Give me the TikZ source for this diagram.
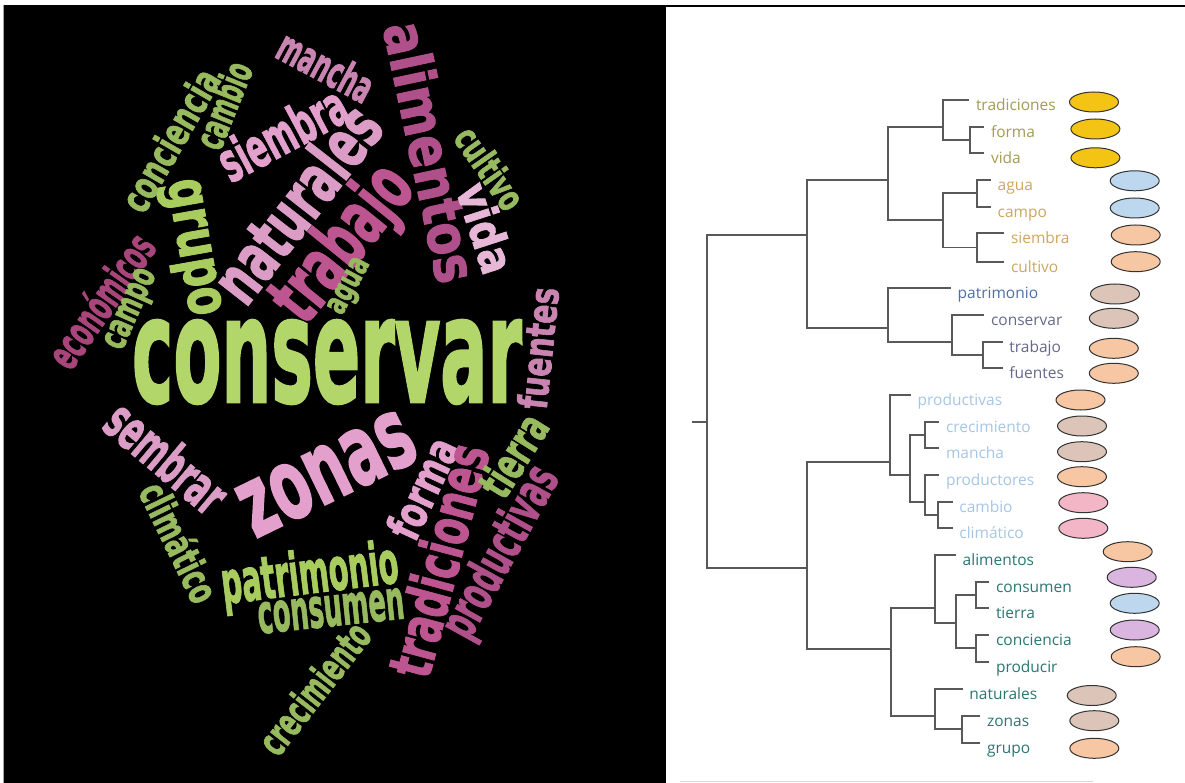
\documentclass[tikz,border=0pt]{standalone}
\usepackage{fontspec}
\usepackage{graphicx}
\usetikzlibrary{shapes.geometric}
\setmainfont{Open Sans}
\newfontfamily\leaffont{Open Sans}
\newfontfamily\cloudfont[FakeBold=2]{DejaVu Sans Bold}

% word cloud palette
\definecolor{limeA}{HTML}{B3D66A}
\definecolor{limeB}{HTML}{A8CC5E}
\definecolor{leafgreen}{HTML}{98BA5E}
\definecolor{pinkA}{HTML}{E3A0CC}
\definecolor{pinkB}{HTML}{DB9CC6}
\definecolor{pinkC}{HTML}{E6B7D6}
\definecolor{mauve}{HTML}{CA84B2}
\definecolor{magA}{HTML}{BD5590}
\definecolor{magB}{HTML}{B0508A}
\definecolor{magC}{HTML}{A8457A}
% dendrogram label colours
\definecolor{olive}{HTML}{A39C52}
\definecolor{sand}{HTML}{CFA660}
\definecolor{navy}{HTML}{4E70A8}
\definecolor{slate}{HTML}{66698A}
\definecolor{skyblue}{HTML}{A7C6E5}
\definecolor{teal}{HTML}{2C7673}
% marker fills
\definecolor{gold}{HTML}{F4C414}
\definecolor{paleblue}{HTML}{BDD7EE}
\definecolor{peach}{HTML}{F7C6A3}
\definecolor{tan}{HTML}{DCC5B8}
\definecolor{rose}{HTML}{F2B6C6}
\definecolor{lilac}{HTML}{D9B5E0}

\tikzset{
  cloudw/.style={inner sep=0pt, font=\cloudfont},
  branch/.style={draw=black!65, line width=1.8pt, line cap=rect},
  leaflabel/.style={inner sep=0pt, anchor=base west, font=\leaffont\fontsize{15.5}{18}\selectfont},
  blob/.style={ellipse, draw=black!80, line width=1pt, minimum width=49pt, minimum height=20pt, inner sep=0pt},
}

% name, colour, angle, centre, font size, length, word
\newcommand\cloudword[7]{%
  \node[cloudw, text=#2, rotate=#3] (#1) at (#4)
    {\fontsize{#5}{#5}\selectfont\resizebox{#6pt}{\height}{#7}};}

% name, branch tip, text, text colour, marker centre, marker fill
\newcommand\leafitem[6]{%
  \coordinate (t-#1) at (#2);
  \node[leaflabel, text=#4] (l-#1) at ([shift={(7.5,10.5)}]t-#1) {#3};
  \node[blob, fill=#6] (e-#1) at (#5) {};}

\begin{document}
\begin{tikzpicture}[x=1pt, y=-1pt]
\useasboundingbox (0,0) rectangle (1185,783);
\fill[white] (0,0) rectangle (1185,783);

% black panel and top rule
\fill[black] (4,5) rectangle (666,783);
\fill[black] (4,5) rectangle (1185,7.5);
\draw[black!35, line width=0.8pt] (3.4,5) -- (3.4,783);
\draw[black!15, line width=0.8pt] (680,781.5) -- (1093,781.5);

% ---------------- word cloud ----------------
\cloudword{w-conservar}{limeA}{0}{327,362}{146}{390}{conservar}
\cloudword{w-zonas}{pinkA}{26}{327,474}{98}{186}{zonas}
\cloudword{w-trabajo}{magA}{51}{345,245}{76}{178}{trabajo}
\cloudword{w-naturales}{pinkB}{52}{296,203}{68}{228}{naturales}
\cloudword{w-siembra}{pinkA}{28}{282,133}{55}{138}{siembra}
\cloudword{w-mancha}{mauve}{-28}{326,66}{44}{102}{mancha}
\cloudword{w-alimentos}{magB}{-78}{431,152}{57}{265}{alimentos}
\cloudword{w-vida}{pinkC}{-72}{486,228}{46}{92}{vida}
\cloudword{w-cultivo}{leafgreen}{-55}{490,168}{37}{92}{cultivo}
\cloudword{w-grupo}{limeB}{-80}{189,248}{58}{138}{grupo}
\cloudword{w-conciencia}{leafgreen}{60}{170,140}{40}{157}{conciencia}
\cloudword{w-cambio}{leafgreen}{68}{223,105}{40}{90}{cambio}
\cloudword{w-economicos}{magC}{55}{100,300}{44}{152}{económicos}
\cloudword{w-campo}{leafgreen}{66}{133,310}{38}{85}{campo}
\cloudword{w-agua}{leafgreen}{62}{351,287}{33}{60}{agua}
\cloudword{w-sembrar}{pinkB}{-40}{167,457}{55}{140}{sembrar}
\cloudword{w-climatico}{leafgreen}{-64}{180,542}{40}{128}{climático}
\cloudword{w-patrimonio}{limeB}{7}{310,577}{59}{178}{patrimonio}
\cloudword{w-consumen}{leafgreen}{6}{331,611}{55}{147}{consumen}
\cloudword{w-crecimiento}{leafgreen}{52}{314,688}{40}{155}{crecimiento}
\cloudword{w-forma}{pinkA}{65}{422,488}{46}{106}{forma}
\cloudword{w-tradiciones}{magA}{75}{438,560}{59}{238}{tradiciones}
\cloudword{w-tierra}{leafgreen}{58}{513,455}{46}{88}{tierra}
\cloudword{w-productivas}{magB}{61}{502,553}{51}{188}{productivas}
\cloudword{w-fuentes}{mauve}{84}{538,348}{40}{122}{fuentes}

% ---------------- dendrogram ----------------
% internal nodes: (merge height, join position)
\coordinate (stub) at (693.3,421.7);
\coordinate (root) at (707.3,421.7);
\coordinate (nAB) at (807,235);
\coordinate (nCD) at (807,568.3);
\coordinate (nA) at (888.3,180);
\coordinate (nB) at (888.3,328.3);
\coordinate (nTFV) at (943.3,126.7);
\coordinate (nFV) at (970,140);
\coordinate (nASC) at (943.3,220);
\coordinate (nAC) at (976.7,193.3);
\coordinate (nSC) at (976.7,247.5);
\coordinate (nCTF) at (951.7,341.7);
\coordinate (nTWF) at (983.3,355);
\coordinate (nC) at (890,461.7);
\coordinate (nCMP) at (910,475);
\coordinate (nCM) at (925,435);
\coordinate (nPCC) at (925,501.7);
\coordinate (nCC) at (938.3,515);
\coordinate (nD) at (890.7,649.3);
\coordinate (nD1) at (935,608.3);
\coordinate (nCTCP) at (956,622.7);
\coordinate (nCT) at (976,595);
\coordinate (nCP) at (976,648.3);
\coordinate (nD2) at (935,716);
\coordinate (nZG) at (961.7,729.3);

% leaves
\leafitem{tradiciones}{968.3,100}{tradiciones}{olive}{1094,102}{gold}
\leafitem{forma}{983.3,126.7}{forma}{olive}{1095.4,129}{gold}
\leafitem{vida}{983.3,153.3}{vida}{olive}{1095.4,157.8}{gold}
\leafitem{agua}{990,180}{agua}{sand}{1134.7,180.8}{paleblue}
\leafitem{campo}{990,206.7}{campo}{sand}{1134.7,208}{paleblue}
\leafitem{siembra}{1003.3,233.3}{siembra}{sand}{1135.7,235}{peach}
\leafitem{cultivo}{1003.3,261.7}{cultivo}{sand}{1135.7,261.7}{peach}
\leafitem{patrimonio}{950,288.3}{patrimonio}{navy}{1115,294}{tan}
\leafitem{conservar}{983.3,315}{conservar}{slate}{1113.8,318.3}{tan}
\leafitem{trabajo}{1001.7,341.7}{trabajo}{slate}{1113.8,348.3}{peach}
\leafitem{fuentes}{1001.7,368.3}{fuentes}{slate}{1113.8,373.3}{peach}
\leafitem{productivas}{910,395}{productivas}{skyblue}{1080.5,400}{peach}
\leafitem{crecimiento}{938.3,421.7}{crecimiento}{skyblue}{1082,426}{tan}
\leafitem{mancha}{938.3,448.3}{mancha}{skyblue}{1082,451.7}{tan}
\leafitem{productores}{938.3,475}{productores}{skyblue}{1082,476.7}{peach}
\leafitem{cambio}{951.7,501.7}{cambio}{skyblue}{1083.3,502.7}{rose}
\leafitem{climatico}{951.7,528.3}{climático}{skyblue}{1083.3,528.3}{rose}
\leafitem{alimentos}{955,555}{alimentos}{teal}{1127.7,551.7}{peach}
\leafitem{consumen}{988.3,581.7}{consumen}{teal}{1131.7,577.3}{lilac}
\leafitem{tierra}{988.3,608.3}{tierra}{teal}{1134.7,603.3}{paleblue}
\leafitem{conciencia}{988.3,635}{conciencia}{teal}{1134.7,630}{lilac}
\leafitem{producir}{988.3,661.7}{producir}{teal}{1135.7,656.7}{peach}
\leafitem{naturales}{961.7,689.3}{naturales}{teal}{1091.7,695.5}{tan}
\leafitem{zonas}{979.3,716}{zonas}{teal}{1094.3,720.7}{tan}
\leafitem{grupo}{979.3,743.3}{grupo}{teal}{1094.3,748.3}{peach}

% branches
\draw[branch] (stub) -- (root);
\draw[branch] (root) |- (nAB);
\draw[branch] (root) |- (nCD);
\draw[branch] (nAB) |- (nA);
\draw[branch] (nAB) |- (nB);
\draw[branch] (nA) |- (nTFV);
\draw[branch] (nA) |- (nASC);
\draw[branch] (nTFV) |- (t-tradiciones);
\draw[branch] (nTFV) |- (nFV);
\draw[branch] (nFV) |- (t-forma);
\draw[branch] (nFV) |- (t-vida);
\draw[branch] (nASC) |- (nAC);
\draw[branch] (nASC) |- (nSC);
\draw[branch] (nAC) |- (t-agua);
\draw[branch] (nAC) |- (t-campo);
\draw[branch] (nSC) |- (t-siembra);
\draw[branch] (nSC) |- (t-cultivo);
\draw[branch] (nB) |- (t-patrimonio);
\draw[branch] (nB) |- (nCTF);
\draw[branch] (nCTF) |- (t-conservar);
\draw[branch] (nCTF) |- (nTWF);
\draw[branch] (nTWF) |- (t-trabajo);
\draw[branch] (nTWF) |- (t-fuentes);
\draw[branch] (nCD) |- (nC);
\draw[branch] (nCD) |- (nD);
\draw[branch] (nC) |- (t-productivas);
\draw[branch] (nC) |- (nCMP);
\draw[branch] (nCMP) |- (nCM);
\draw[branch] (nCMP) |- (nPCC);
\draw[branch] (nCM) |- (t-crecimiento);
\draw[branch] (nCM) |- (t-mancha);
\draw[branch] (nPCC) |- (t-productores);
\draw[branch] (nPCC) |- (nCC);
\draw[branch] (nCC) |- (t-cambio);
\draw[branch] (nCC) |- (t-climatico);
\draw[branch] (nD) |- (nD1);
\draw[branch] (nD) |- (nD2);
\draw[branch] (nD1) |- (t-alimentos);
\draw[branch] (nD1) |- (nCTCP);
\draw[branch] (nCTCP) |- (nCT);
\draw[branch] (nCTCP) |- (nCP);
\draw[branch] (nCT) |- (t-consumen);
\draw[branch] (nCT) |- (t-tierra);
\draw[branch] (nCP) |- (t-conciencia);
\draw[branch] (nCP) |- (t-producir);
\draw[branch] (nD2) |- (t-naturales);
\draw[branch] (nD2) |- (nZG);
\draw[branch] (nZG) |- (t-zonas);
\draw[branch] (nZG) |- (t-grupo);
\end{tikzpicture}
\end{document}
